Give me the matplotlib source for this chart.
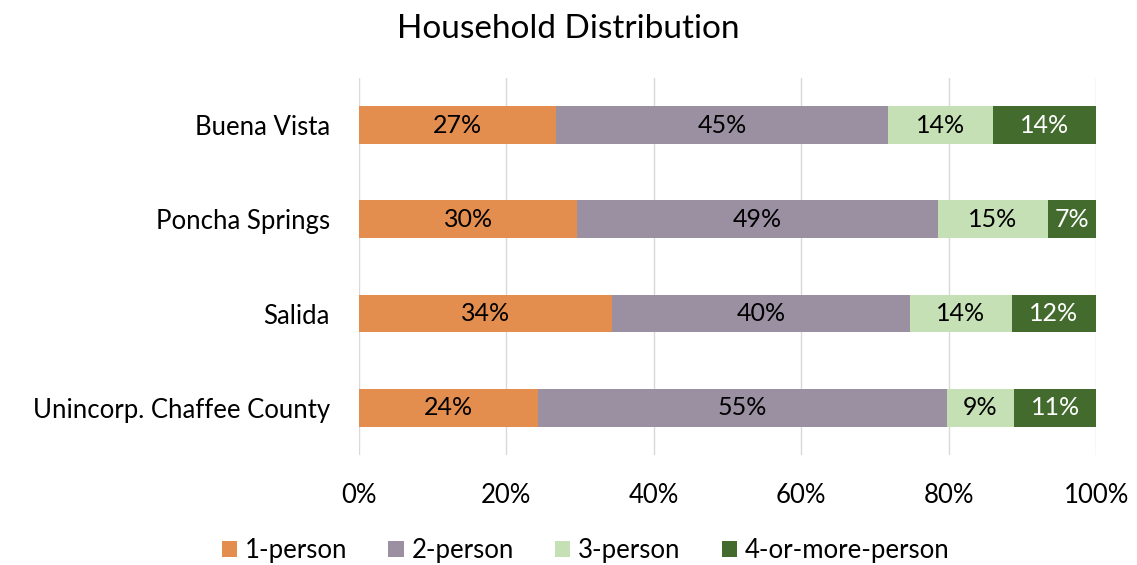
import matplotlib.pyplot as plt
import numpy as np

# data (percent of households)
places = ["Buena Vista", "Poncha Springs", "Salida", "Unincorp. Chaffee County"]
one_person = [26.7, 29.6, 34.3, 24.3]
two_person = [45.1, 48.9, 40.4, 55.4]
three_person = [14.2, 14.9, 13.8, 9.2]
four_plus = [14.0, 6.6, 11.5, 11.1]
series_names = ["1-person", "2-person", "3-person", "4-or-more-person"]
x_ticks = [0, 20, 40, 60, 80, 100]

colors = ["#E38D4F", "#9A90A2", "#C5E0B4", "#436B2D"]
text_colors = ["black", "black", "black", "white"]

plt.rcParams['font.family'] = ['Lato', 'DejaVu Sans']

fig = plt.figure(figsize=(11.37, 5.65), dpi=100)
ax = fig.add_axes([0.3157, 0.195, 0.6485, 0.667])

y = np.arange(len(places))
left = np.zeros(len(places))
for vals, name, c, tc in zip([one_person, two_person, three_person, four_plus],
                             series_names, colors, text_colors):
    vals = np.array(vals)
    bars = ax.barh(y, vals, left=left, height=0.4, color=c, label=name, zorder=2)
    for b, v in zip(bars, vals):
        ax.text(b.get_x() + b.get_width() / 2, b.get_y() + b.get_height() / 2,
                f"{round(v):.0f}%", ha='center', va='center',
                fontsize=18, color=tc, zorder=3)
    left += vals

ax.set_xlim(0, 100)
ax.set_ylim(len(places) - 0.5, -0.5)
ax.set_yticks(y)
ax.set_yticklabels(places, fontsize=18.5)
ax.set_xticks(x_ticks)
ax.set_xticklabels([f"{t}%" for t in x_ticks], fontsize=18.5)
ax.tick_params(length=0)
ax.tick_params(axis='y', pad=21)
ax.tick_params(axis='x', pad=20)
ax.grid(axis='x', color='#D9D9D9', linewidth=1, zorder=0)
for s in ax.spines.values():
    s.set_visible(False)

fig.suptitle("Household Distribution", fontsize=24, y=0.975)
fig.legend(loc='lower center', ncol=4, frameon=False, fontsize=18.5,
           bbox_to_anchor=(0.515, -0.038), handlelength=0.6, handleheight=0.6,
           handletextpad=0.3, columnspacing=1.6)

fig.savefig("out.png", dpi=100)
